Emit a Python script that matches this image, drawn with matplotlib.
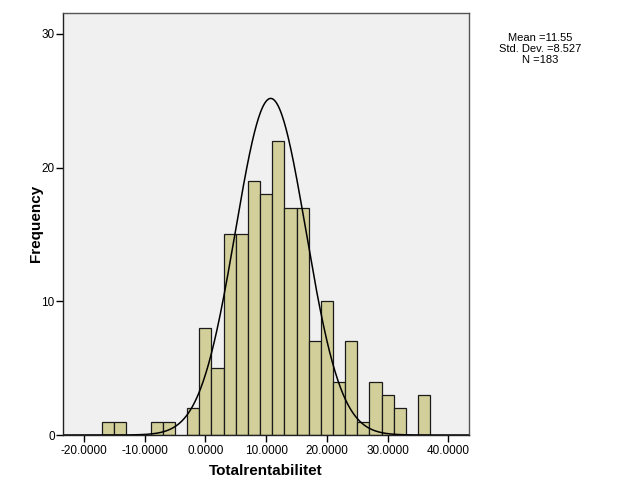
import numpy as np
import matplotlib
matplotlib.use("Agg")
import matplotlib.pyplot as plt

# Histogram data (bin left edges, width 2)
bin_edges = [-17, -15, -13, -11, -9, -7, -5, -3, -1, 1, 3, 5, 7, 9, 11, 13, 15, 17,
             19, 21, 23, 25, 27, 29, 31, 33, 35, 37]
counts = [1, 1, 0, 0, 1, 1, 0, 2, 8, 5, 15, 15, 19, 18, 22, 17, 17, 7,
          10, 4, 7, 1, 4, 3, 2, 0, 3]
x_ticks = [-20, -10, 0, 10, 20, 30, 40]
y_ticks = [0, 10, 20, 30]
stats_text = "Mean =11.55\nStd. Dev. =8.527\nN =183"
curve_mean = 10.75
curve_sd = 5.8
n_total = 183
bin_width = 2.0

plt.rcParams['font.family'] = ['Liberation Sans', 'DejaVu Sans']

fig = plt.figure(figsize=(6.29, 5.04), dpi=100)
ax = fig.add_axes([63/629, 1 - 435/504, (469-63)/629, (435-12.5)/504])
ax.set_facecolor('#F0F0F0')

lefts = np.array(bin_edges[:-1])
widths = np.diff(bin_edges)
mask = np.array(counts) > 0
ax.bar(lefts[mask], np.array(counts)[mask], width=widths[mask], align='edge',
       color='#D3CF9A', edgecolor='#1a1a1a', linewidth=0.9)

xs = np.linspace(-23.5, 43.5, 600)
ys = n_total * bin_width / (curve_sd * np.sqrt(2 * np.pi)) * np.exp(-0.5 * ((xs - curve_mean) / curve_sd) ** 2)
ax.plot(xs, ys, color='black', linewidth=1.1)

ax.set_xlim(-23.45, 43.4)
ax.set_ylim(0, 31.6)
ax.set_xticks(x_ticks)
ax.set_xticklabels([f"{v:.4f}" for v in x_ticks])
ax.set_yticks(y_ticks)
ax.tick_params(axis='both', direction='out', length=5, width=1, labelsize=8.5, color='black')
ax.tick_params(axis='x', pad=2)
ax.tick_params(axis='y', pad=1)

for s in ['top', 'right']:
    ax.spines[s].set_color('#555555')
    ax.spines[s].set_linewidth(1)
for s in ['left', 'bottom']:
    ax.spines[s].set_color('#222222')
    ax.spines[s].set_linewidth(1)

ax.set_xlabel('Totalrentabilitet', fontsize=11, fontweight='bold', labelpad=5)
ax.set_ylabel('Frequency', fontsize=11, fontweight='bold', labelpad=-1)

fig.text(540/629, 1 - 49/504, stats_text, ha='center', va='center', fontsize=8, linespacing=1.1)

fig.savefig('out.png', dpi=100)
